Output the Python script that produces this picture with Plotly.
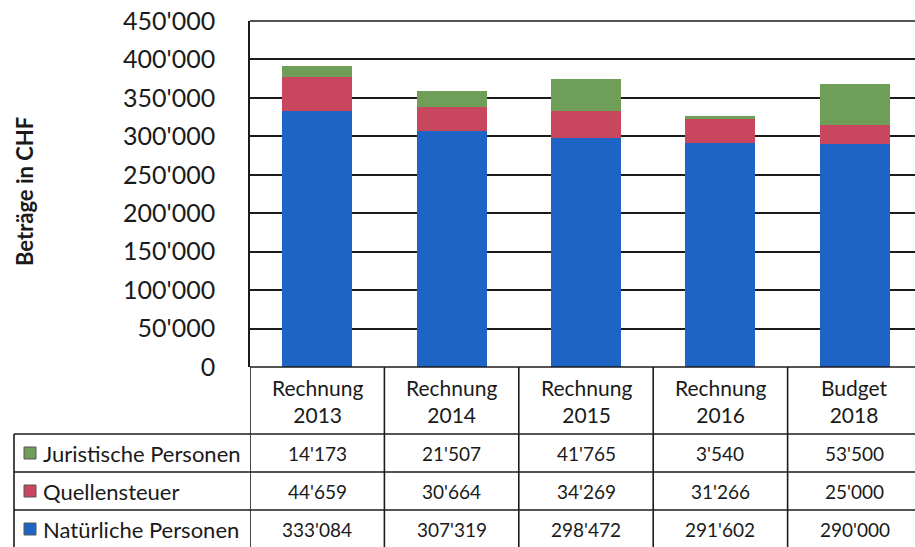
import plotly.graph_objects as go

# ---------------- data ----------------
categories = ["Rechnung 2013", "Rechnung 2014", "Rechnung 2015", "Rechnung 2016", "Budget 2018"]
header_lines = [["Rechnung", "2013"], ["Rechnung", "2014"], ["Rechnung", "2015"],
                ["Rechnung", "2016"], ["Budget", "2018"]]
natuerliche = [333084, 307319, 298472, 291602, 290000]
quellensteuer = [44659, 30664, 34269, 31266, 25000]
juristische = [14173, 21507, 41765, 3540, 53500]
series_names = ["Natürliche Personen", "Quellensteuer", "Juristische Personen"]
y_ticks = [0, 50000, 100000, 150000, 200000, 250000, 300000, 350000, 400000, 450000]
y_title = "Beträge in CHF"

# ---------------- styles ----------------
W, H = 915, 547
L, R, T, B = 250, 0, 21, 180
PW, PH = W - L - R, H - T - B
FONT = "Lato"
LINE = "#1b1b1b"
colors = {"Natürliche Personen": "#1e64c4",
          "Quellensteuer": "#c9465f",
          "Juristische Personen": "#6e9e57"}

def fmt(v):
    return f"{v:,}".replace(",", "'")

def px_x(px):
    return (px - L) / PW

def px_y(py):
    return (T + PH - py) / PH

series_values = {"Natürliche Personen": natuerliche,
                 "Quellensteuer": quellensteuer,
                 "Juristische Personen": juristische}

fig = go.Figure()
for name in series_names:
    fig.add_trace(go.Bar(
        x=categories, y=series_values[name], name=name,
        marker=dict(color=colors[name], line=dict(width=0)),
        hoverinfo="x+y+name",
    ))

# x range chosen so the category columns are ~134px wide (chart is cropped at the right)
x_right = 4.5 - (922 - W) / 134.4

fig.update_layout(
    width=W, height=H,
    margin=dict(l=L, r=R, t=T, b=B, pad=0, autoexpand=False),
    barmode="stack", bargap=0.48,
    plot_bgcolor="white", paper_bgcolor="white",
    showlegend=False,
    font=dict(family=FONT, color="#1a1a1a"),
    separators=".'",
    xaxis=dict(range=[-0.5, x_right], showticklabels=False, showgrid=False,
               zeroline=False, showline=False, ticks="", automargin=False),
    yaxis=dict(range=[0, 450000], tickvals=y_ticks, tickformat=",d",
               tickfont=dict(size=25, family=FONT, color="#1a1a1a"),
               ticklabelstandoff=28, ticks="", automargin=False,
               showgrid=True, gridcolor=LINE, gridwidth=1.6,
               zeroline=False, showline=True, linecolor=LINE, linewidth=1.6),
)

shapes = []
# top border of plot
shapes.append(dict(type="line", xref="paper", yref="paper", x0=0, x1=1, y0=1, y1=1,
                   line=dict(color=LINE, width=1.6)))
# table horizontal lines
shapes.append(dict(type="line", xref="paper", yref="paper", x0=0, x1=1, y0=0, y1=0,
                   line=dict(color=LINE, width=1.6)))
for py in [434, 472, 510]:
    shapes.append(dict(type="line", xref="paper", yref="paper", x0=px_x(14), x1=1,
                       y0=px_y(py), y1=px_y(py), line=dict(color=LINE, width=1.6)))
# label box left border
shapes.append(dict(type="line", xref="paper", yref="paper", x0=px_x(14), x1=px_x(14),
                   y0=px_y(434), y1=px_y(H + 2), line=dict(color=LINE, width=1.6)))
# table vertical lines on category boundaries
for i in range(len(categories)):
    shapes.append(dict(type="line", xref="x", yref="paper", x0=i - 0.5, x1=i - 0.5,
                       y0=0, y1=px_y(H + 2), line=dict(color=LINE, width=1.6)))

annotations = []
# y-axis title
annotations.append(dict(text=f"<b>{y_title}</b>", xref="paper", yref="paper",
                        x=px_x(25), y=px_y(192), textangle=-90, showarrow=False,
                        font=dict(size=22, family=FONT, color="#1a1a1a"),
                        xanchor="center", yanchor="middle"))
# header (category) cells
for cat, lines in zip(categories, header_lines):
    annotations.append(dict(text="<br>".join(lines), xref="x", yref="paper",
                            x=cat, y=px_y(401), showarrow=False,
                            font=dict(size=21, family=FONT, color="#1a1a1a"),
                            xanchor="center", yanchor="middle", align="center"))

row_order = ["Juristische Personen", "Quellensteuer", "Natürliche Personen"]
row_centers = [453, 491, 529]
for name, cy in zip(row_order, row_centers):
    shapes.append(dict(type="rect", xref="paper", yref="paper",
                       x0=px_x(24), x1=px_x(36), y0=px_y(cy - 6), y1=px_y(cy + 6),
                       fillcolor=colors[name], line=dict(color="#555555", width=1)))
    annotations.append(dict(text=name, xref="paper", yref="paper",
                            x=px_x(41), y=px_y(cy), showarrow=False,
                            font=dict(size=22, family=FONT, color="#1a1a1a"),
                            xanchor="left", yanchor="middle"))
    for cat, v in zip(categories, series_values[name]):
        annotations.append(dict(text=fmt(v), xref="x", yref="paper",
                                x=cat, y=px_y(cy), showarrow=False,
                                font=dict(size=19, family=FONT, color="#1a1a1a"),
                                xanchor="center", yanchor="middle"))

fig.update_layout(shapes=shapes, annotations=annotations)
fig.write_html("out.html", config={"displayModeBar": False},
               post_script="document.body.style.margin='0';document.body.style.overflow='hidden';")
